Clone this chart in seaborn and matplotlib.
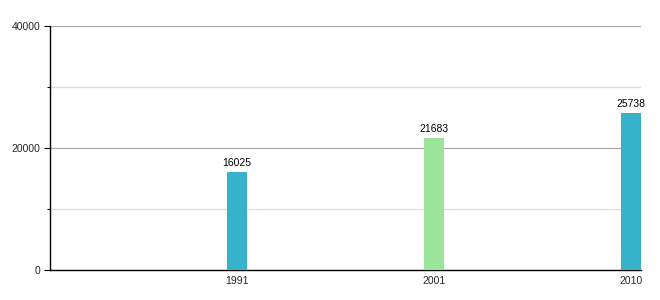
import matplotlib
matplotlib.use("Agg")
import matplotlib.pyplot as plt
import seaborn as sns
import pandas as pd
from matplotlib.ticker import MultipleLocator

years = ["1991", "2001", "2010"]
values = [16025, 21683, 25738]
colors = ["#36B2CB", "#9BE59B", "#36B2CB"]

sns.set_style("white")
plt.rcParams["font.family"] = ["Liberation Sans", "DejaVu Sans"]

df = pd.DataFrame({"year": years, "value": values})

fig = plt.figure(figsize=(6.6, 3.0), dpi=100)
ax = fig.add_axes([50/660, 1 - 270/300, (641-50)/660, (270-26)/300])

sns.barplot(data=df, x="year", y="value", hue="year", palette=colors,
            width=0.1015, legend=False, ax=ax, saturation=1, zorder=3,
            linewidth=0, edgecolor="none")

ax.set_ylim(0, 40000)
ax.set_xlim(-0.949, 2.051)
ax.yaxis.set_major_locator(MultipleLocator(20000))
ax.yaxis.set_minor_locator(MultipleLocator(10000))
ax.grid(axis="y", which="major", color="#aaaaaa", linewidth=0.9, zorder=0)
ax.grid(axis="y", which="minor", color="#dddddd", linewidth=0.9, zorder=0)
ax.set_axisbelow(True)

for s in ["top", "right"]:
    ax.spines[s].set_visible(False)
ax.spines["left"].set_color("black")
ax.spines["bottom"].set_color("black")
ax.spines["left"].set_linewidth(1.0)
ax.spines["bottom"].set_linewidth(1.0)

ax.tick_params(axis="y", which="major", left=True, length=4, width=0.8,
               color="black", labelsize=7.5, pad=3)
ax.tick_params(axis="y", which="minor", left=True, length=2, width=0.8, color="black")
ax.tick_params(axis="x", bottom=False, labelsize=7.5, pad=0.5)
ax.set_xlabel("")
ax.set_ylabel("")

for i, v in enumerate(values):
    ax.annotate(str(v), (i, v), xytext=(0, 3), textcoords="offset points",
                ha="center", va="bottom", fontsize=7.5, color="black")

fig.savefig("out.png", dpi=100)
